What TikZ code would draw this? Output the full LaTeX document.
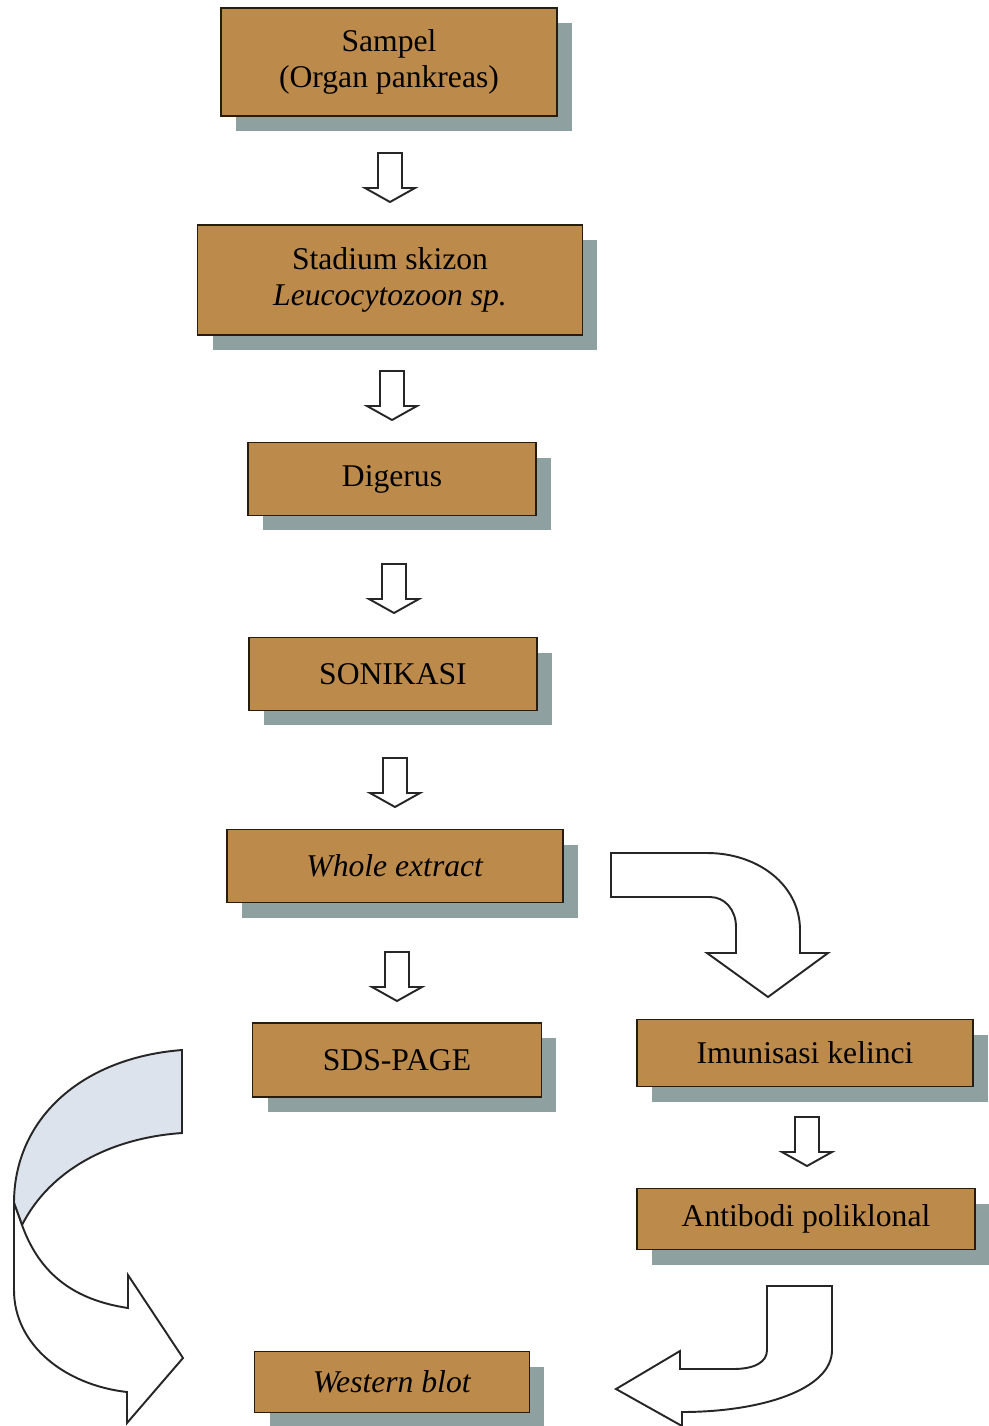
\documentclass[tikz,border=0pt]{standalone}
\usepackage{fontspec}
\setmainfont{Liberation Serif}
\usetikzlibrary{shadows}
\definecolor{boxfill}{RGB}{188,139,76}
\definecolor{boxline}{RGB}{40,28,14}
\definecolor{shadowgray}{RGB}{143,160,160}
\definecolor{ribbongray}{RGB}{221,227,236}
\tikzset{
  downarr/.pic={\draw[arrline] (-12,0) -- (-12,35) -- (-25,35) -- (0,49) -- (25,35) -- (12,35) -- (12,0) -- cycle;}
}
\begin{document}
\begin{tikzpicture}[x=0.02cm, y=-0.02cm,
  every node/.style={font=\fontsize{18}{20.5}\selectfont, align=center},
  stepbox/.style={draw=boxline, fill=boxfill, line width=1pt, inner sep=0pt,
    drop shadow={shadow xshift=0.3cm, shadow yshift=-0.3cm, fill=shadowgray, opacity=1}},
  arrline/.style={draw=black!85, fill=white, line width=1.1pt, line join=miter}]
\useasboundingbox (0,0) rectangle (989,1426);
\node[stepbox, minimum width=6.72cm, minimum height=2.16cm] (sampel) at (389,62) {Sampel\\(Organ pankreas)};
\node[stepbox, minimum width=7.70cm, minimum height=2.20cm] (skizon) at (390,280) {Stadium skizon\\\textit{Leucocytozoon sp.}};
\node[stepbox, minimum width=5.76cm, minimum height=1.46cm] (digerus) at (392,479) {Digerus};
\node[stepbox, minimum width=5.76cm, minimum height=1.46cm] (sonik) at (393,674) {SONIKASI};
\node[stepbox, minimum width=6.72cm, minimum height=1.46cm] (whole) at (395,866) {\textit{Whole extract}};
\node[stepbox, minimum width=5.78cm, minimum height=1.48cm] (sds) at (397,1060) {SDS-PAGE};
\node[stepbox, minimum width=6.72cm, minimum height=1.34cm] (imun) at (805,1053) {Imunisasi kelinci};
\node[stepbox, minimum width=6.76cm, minimum height=1.22cm] (antibodi) at (806,1219) {Antibodi poliklonal};
\node[stepbox, minimum width=5.50cm, minimum height=1.22cm] (western) at (392,1382) {\textit{Western blot}};
\pic at (390,153) {downarr};
\pic at (392,371) {downarr};
\pic at (394,564) {downarr};
\pic at (395,758) {downarr};
\pic at (397,952) {downarr};
\pic at (807,1117) {downarr};
\draw[arrline] (611,853) -- (707,853) .. controls (758,853) and (800,885) .. (800,930) -- (800,953) -- (828,953) -- (768,997) -- (707,953) -- (736,953) -- (736,927) .. controls (736,910) and (725,897) .. (710,897) -- (611,897) -- cycle;
\draw[arrline] (767,1286) -- (832,1286) -- (832,1350) .. controls (832,1390) and (760,1412) .. (682,1412) -- (682,1426) -- (616,1389) -- (680,1351) -- (680,1369) -- (733,1369) .. controls (755,1369) and (767,1362) .. (767,1350) -- cycle;
\draw[arrline, fill=ribbongray] (182,1050) .. controls (80,1058) and (14,1120) .. (14,1203) -- (22,1225) .. controls (50,1170) and (110,1138) .. (182,1133) -- cycle;
\draw[arrline] (14,1203) -- (14,1290) .. controls (14,1345) and (65,1385) .. (127,1392) -- (127,1423) -- (183,1358) -- (128,1275) -- (128,1308) .. controls (75,1300) and (40,1275) .. (22,1225) -- cycle;
\end{tikzpicture}
\end{document}
